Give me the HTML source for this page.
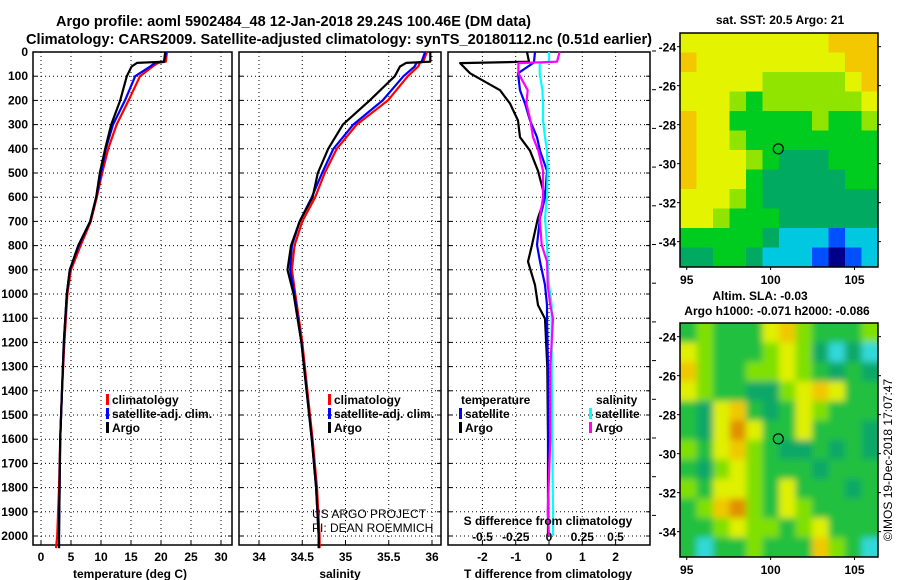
<!DOCTYPE html>
<html><head><meta charset="utf-8"><style>
body{margin:0;background:#fff}
svg{display:block;font-family:"Liberation Sans",sans-serif}
.b{font-weight:bold;font-size:12px}
.t{font-weight:bold;font-size:14.7px}
</style></head><body>
<svg id="s" width="900" height="580">
<defs>
<filter id="blur" x="-10%" y="-10%" width="120%" height="120%"><feGaussianBlur stdDeviation="3.5"/></filter>
<clipPath id="slaclip"><rect x="680" y="323" width="198" height="234"/></clipPath>
</defs>
<text class="t" x="56" y="26" textLength="475" lengthAdjust="spacingAndGlyphs">Argo profile: aoml 5902484_48 12-Jan-2018 29.24S 100.46E (DM data)</text>
<text class="t" x="26" y="44" textLength="626" lengthAdjust="spacingAndGlyphs">Climatology: CARS2009. Satellite-adjusted climatology: synTS_20180112.nc (0.51d earlier)</text>
<text class="b" x="780" y="24" text-anchor="middle">sat. SST: 20.5 Argo: 21</text>
<text class="b" x="760" y="300" text-anchor="middle">Altim. SLA: -0.03</text>
<text class="b" x="777" y="315" text-anchor="middle">Argo h1000: -0.071 h2000: -0.086</text>
<text x="892" y="460" font-size="12" text-anchor="middle" transform="rotate(-90 892 460)">©IMOS 19-Dec-2018 17:07:47</text>
<text x="312" y="518" font-size="12">US ARGO PROJECT</text>
<text x="312" y="532" font-size="12">PI: DEAN ROEMMICH</text>
</svg>
<script>
// ---- data ----
const depths = [0,40,45,60,100,200,300,400,500,600,700,800,900,1000,1200,1400,1600,1800,2000,2050];
const tempClim = [21,20.8,19.5,18.6,16.5,14.6,12.6,11.2,10.2,9.3,8.3,6.6,5.0,4.4,3.9,3.5,3.2,3.0,2.7,2.5];
const tempSat  = [20.9,20.5,19,18.2,15.7,14,12,10.8,10,9.2,8.2,6.3,4.8,4.3,3.8,3.5,3.2,3.1,3.0,3.0];
const tempArgo = [20.7,20.5,16,15.1,14.3,13.2,11.7,10.7,9.8,9.2,8.2,6.2,4.8,4.3,3.8,3.5,3.2,3.1,3.0,3.0];
const salClim = [35.94,35.9,35.86,35.84,35.72,35.49,35.13,34.9,34.76,34.65,34.5,34.41,34.38,34.42,34.5,34.56,34.62,34.67,34.7,34.7];
const salSat  = [35.92,35.88,35.82,35.8,35.67,35.43,35.09,34.86,34.73,34.61,34.47,34.38,34.36,34.41,34.49,34.55,34.61,34.66,34.69,34.69];
const salArgo = [35.98,35.98,35.7,35.63,35.57,35.28,34.97,34.8,34.68,34.62,34.47,34.37,34.33,34.4,34.49,34.55,34.61,34.66,34.69,34.69];
const diffDepths = [0,40,46,88,158,213,283,352,408,491,602,685,797,866,963,1046,1102,1300,1600,1900,2000];
const tDiffArgo = [-0.66,-0.6,-2.67,-2.37,-1.47,-1.17,-0.93,-0.87,-0.57,-0.33,-0.12,-0.33,-0.51,-0.63,-0.42,-0.33,-0.12,-0.05,-0.03,-0.03,-0.03];
const tDiffSat  = [-0.42,-0.45,-0.48,-0.93,-0.87,-0.72,-0.57,-0.36,-0.27,-0.06,-0.12,-0.27,-0.36,-0.27,-0.12,-0.06,-0.06,-0.03,-0.02,-0.02,-0.02];
const sDiffArgo = [0.08,0.06,-0.23,-0.23,-0.16,-0.17,-0.14,-0.12,-0.08,-0.045,-0.045,-0.07,-0.055,-0.015,-0.01,0.01,0.03,0.01,0.01,-0.01,0.0];
const sDiffSat  = [0.0,0.0,-0.07,-0.07,-0.05,-0.045,-0.045,-0.03,-0.015,-0.01,-0.015,-0.03,-0.015,-0.01,0.0,0.02,0.02,0.02,0.025,0.03,0.03];
const depthTicks = [0,100,200,300,400,500,600,700,800,900,1000,1100,1200,1300,1400,1500,1600,1700,1800,1900,2000];
const tempTicks = [0,5,10,15,20,25,30];
const salTicks = [34,34.5,35,35.5,36];
const salTickLabels = ["34","34.5","35","35.5","36"];
const tDiffTicks = [-2,-1,0,1,2];
const sDiffTicks = [-0.5,-0.25,0,0.25,0.5];
const sDiffTickLabels = ["-0.5","-0.25","0","0.25","0.5"];
const latTicks = [-24,-26,-28,-30,-32,-34];
const lonTicks = [95,100,105];
const sstGrid = [
[6,6,6,6,6,6,6,6,6,7,7,7],[7,6,6,6,6,6,6,6,6,6,7,7],[6,6,6,6,6,5,5,5,5,5,6,7],
[6,6,6,5,4,5,5,5,5,5,5,6],[7,6,6,4,4,4,4,4,5,4,4,5],[7,6,6,5,4,4,4,4,4,4,4,4],
[7,6,6,6,5,4,3,3,3,4,4,4],[7,6,6,6,4,3,3,3,3,3,4,4],[6,6,6,5,4,3,3,3,3,3,3,3],
[6,6,5,4,4,4,3,3,3,3,3,3],[4,4,4,4,4,3,2,2,2,1,2,2],[3,3,4,4,3,2,2,2,1,0,1,2]];
const slaGrid = [
[4,5,4,4,4,6,7,5,4,4,4,5],[6,5,4,4,4,5,6,5,3,2,3,2],[7,5,4,4,5,5,6,5,4,3,4,3],
[6,5,4,4,3,3,5,6,7,6,4,4],[4,3,6,7,4,3,4,6,5,4,4,4],[4,3,6,8,6,4,4,6,4,4,4,3],
[5,4,6,7,5,4,3,3,4,3,4,3],[4,3,5,6,5,4,4,4,3,4,4,4],[5,4,6,6,5,4,6,4,4,4,3,4],
[4,5,7,8,5,4,6,5,4,4,4,4],[4,4,5,6,5,5,4,5,6,4,4,4],[4,2,4,4,5,4,4,4,7,5,4,2]];
const sstPalette = ["#00008b","#0050ff","#00c8e0","#00aa60","#00cc20","#90e400","#e4f400","#f4c800","#f09000"];
const slaPalette = ["#00008b","#0050ff","#30d8d8","#10a868","#20c040","#80e000","#e0f000","#f0c800","#e09000"];
const argoLon = 100.46, argoLat = -29.24;

// ---- helpers ----
const NS="http://www.w3.org/2000/svg", svg=document.getElementById('s');
function mk(tag,attrs,parent){const e=document.createElementNS(NS,tag);for(const k in attrs)e.setAttribute(k,attrs[k]);(parent||svg).appendChild(e);return e;}
const Y0=52, PY=0.242, YB=545;
const yD=d=>Y0+d*PY;
const panels=[{x0:33,x1:232},{x0:239,x1:441},{x0:448,x1:650}];
const xT=v=>41+v*6, xS=v=>259+(v-34)*86.5, xTD=v=>549+v*33.3, xSD=v=>549+v*133;

panels.forEach((p,i)=>{
  const g=mk('g',{});
  
  
  depthTicks.forEach(d=>{
    if(d>0){const l=mk('line',{x1:p.x0,x2:p.x1,y1:yD(d),y2:yD(d),stroke:'#000','stroke-width':1,'stroke-dasharray':'1,3'},g);
    }
    mk('line',{x1:p.x0,x2:p.x0+4,y1:yD(d),y2:yD(d),stroke:'#000'},g);
    mk('line',{x1:p.x1-4,x2:p.x1,y1:yD(d),y2:yD(d),stroke:'#000'},g);
  });
  const r=mk('rect',{x:p.x0,y:Y0,width:p.x1-p.x0,height:YB-Y0,fill:'none',stroke:'#000','stroke-width':1.5},g);
  
});
depthTicks.forEach(d=>{
  const t=mk('text',{x:28,y:yD(d)+4,'text-anchor':'end',class:'b'});t.textContent=d;
  
});
for(let y=51;y<YB;y+=38.7) mk('line',{x1:652,x2:656,y1:y,y2:y,stroke:'#000'});

function vgrid(ticks,fx,p,ty,labels,nm){
  ticks.forEach((v,i)=>{
    const x=fx(v);
    const l=mk('line',{x1:x,x2:x,y1:Y0,y2:YB,stroke:'#000','stroke-dasharray':'1,3'});
    
    mk('line',{x1:x,x2:x,y1:YB-4,y2:YB,stroke:'#000'});
    const t=mk('text',{x:x,y:ty,'text-anchor':'middle',class:'b'});t.textContent=labels?labels[i]:v;
    
  });
}
vgrid(tempTicks,xT,panels[0],561,null,'temperature');
vgrid(salTicks,xS,panels[1],561,salTickLabels,'salinity');
vgrid(tDiffTicks,xTD,panels[2],561,null,'t-diff');
sDiffTicks.forEach((v,i)=>{const t=mk('text',{x:xSD(v),y:541,'text-anchor':'middle',class:'b'});t.textContent=sDiffTickLabels[i];
  });

function line(xs,ds,fx,col,nm,w){
  const pts=xs.map((v,i)=>fx(v).toFixed(1)+','+yD(ds[i]).toFixed(1)).join(' ');
  const l=mk('polyline',{points:pts,fill:'none',stroke:col,'stroke-width':w||2.2,'stroke-linejoin':'round'});
  
}
line(tempClim,depths,xT,'#ff0000','temp-climatology-line');
line(tempSat,depths,xT,'#0000ff','temp-satellite-line');
line(tempArgo,depths,xT,'#000000','temp-argo-line');
line(salClim,depths,xS,'#ff0000','sal-climatology-line');
line(salSat,depths,xS,'#0000ff','sal-satellite-line');
line(salArgo,depths,xS,'#000000','sal-argo-line');
line(tDiffArgo,diffDepths,xTD,'#000000','t-diff-argo-line');
line(tDiffSat,diffDepths,xTD,'#0000ff','t-diff-satellite-line');
line(sDiffSat,diffDepths,xSD,'#00ffff','s-diff-satellite-line');
line(sDiffArgo,diffDepths,xSD,'#ff00ff','s-diff-argo-line');

function txt(x,y,s,nm,anchor){const t=mk('text',{x:x,y:y,class:'b','text-anchor':anchor||'start'});t.textContent=s;
  return t;}
function leg(x,y,col,s){mk('rect',{x:x,y:y-10,width:3,height:11,fill:col});txt(x+6,y,s,'legend-entry');}
leg(106,404,'#ff0000','climatology');leg(106,418,'#0000ff','satellite-adj. clim.');leg(106,432,'#000','Argo');
leg(328,404,'#ff0000','climatology');leg(328,418,'#0000ff','satellite-adj. clim.');leg(328,432,'#000','Argo');
txt(461,404,'temperature','legend-heading-temperature');txt(596,404,'salinity','legend-heading-salinity');
leg(459,418,'#0000ff','satellite');leg(459,432,'#000','Argo');
leg(589,418,'#00ffff','satellite');leg(589,432,'#ff00ff','Argo');
txt(130,578,'temperature (deg C)','x-axis-title-temperature','middle');
txt(340,578,'salinity','x-axis-title-salinity','middle');
txt(548,578,'T difference from climatology','x-axis-title-t-diff','middle');
txt(548,525,'S difference from climatology','x-axis-title-s-diff','middle');

function map(grid,pal,y0,y1,nm,smooth){
  const x0=680,x1=878,lonA=94.6,lonB=106.4,latA=-23.3,latB=-35.3;
  const fx=v=>x0+(v-lonA)/(lonB-lonA)*(x1-x0), fy=v=>y0+(v-latA)/(latB-latA)*(y1-y0);
  const g=mk('g',{});
  let cg=g;
  if(smooth){const outer=mk('g',{'clip-path':'url(#slaclip)'},g);cg=mk('g',{filter:'url(#blur)'},outer);}
  const rows=grid.length,cols=grid[0].length;
  grid.forEach((row,r)=>row.forEach((c,k)=>{
    let x=x0+k*(x1-x0)/cols,y=y0+r*(y1-y0)/rows,w=(x1-x0)/cols+0.5,h=(y1-y0)/rows+0.5;
    if(smooth){ if(k==0){x-=12;w+=12;} if(k==cols-1)w+=12; if(r==0){y-=12;h+=12;} if(r==rows-1)h+=12; }
    const cell=mk('rect',{x:x,y:y,width:w,height:h,fill:pal[c]},cg);
    
  }));
  mk('rect',{x:x0,y:y0,width:x1-x0,height:y1-y0,fill:'none',stroke:'#000','stroke-width':1.5},g);
  latTicks.forEach(v=>{const y=fy(v);mk('line',{x1:x0,x2:x0-3,y1:y,y2:y,stroke:'#000'},g);mk('line',{x1:x1,x2:x1+3,y1:y,y2:y,stroke:'#000'},g);
    txt(676,y+5,String(v),'lat-tick-label','end');});
  lonTicks.forEach(v=>{const x=fx(v);mk('line',{x1:x,x2:x,y1:y1,y2:y1+3,stroke:'#000'},g);txt(x,y1+17,String(v),'lon-tick-label','middle');});
  const c=mk('circle',{cx:fx(argoLon),cy:fy(argoLat),r:5,fill:'none',stroke:'#000','stroke-width':1.2},g);
  
}
map(sstGrid,sstPalette,33,267,'sst-map',false);
map(slaGrid,slaPalette,323,557,'sla-map',true);
</script>
</body></html>
